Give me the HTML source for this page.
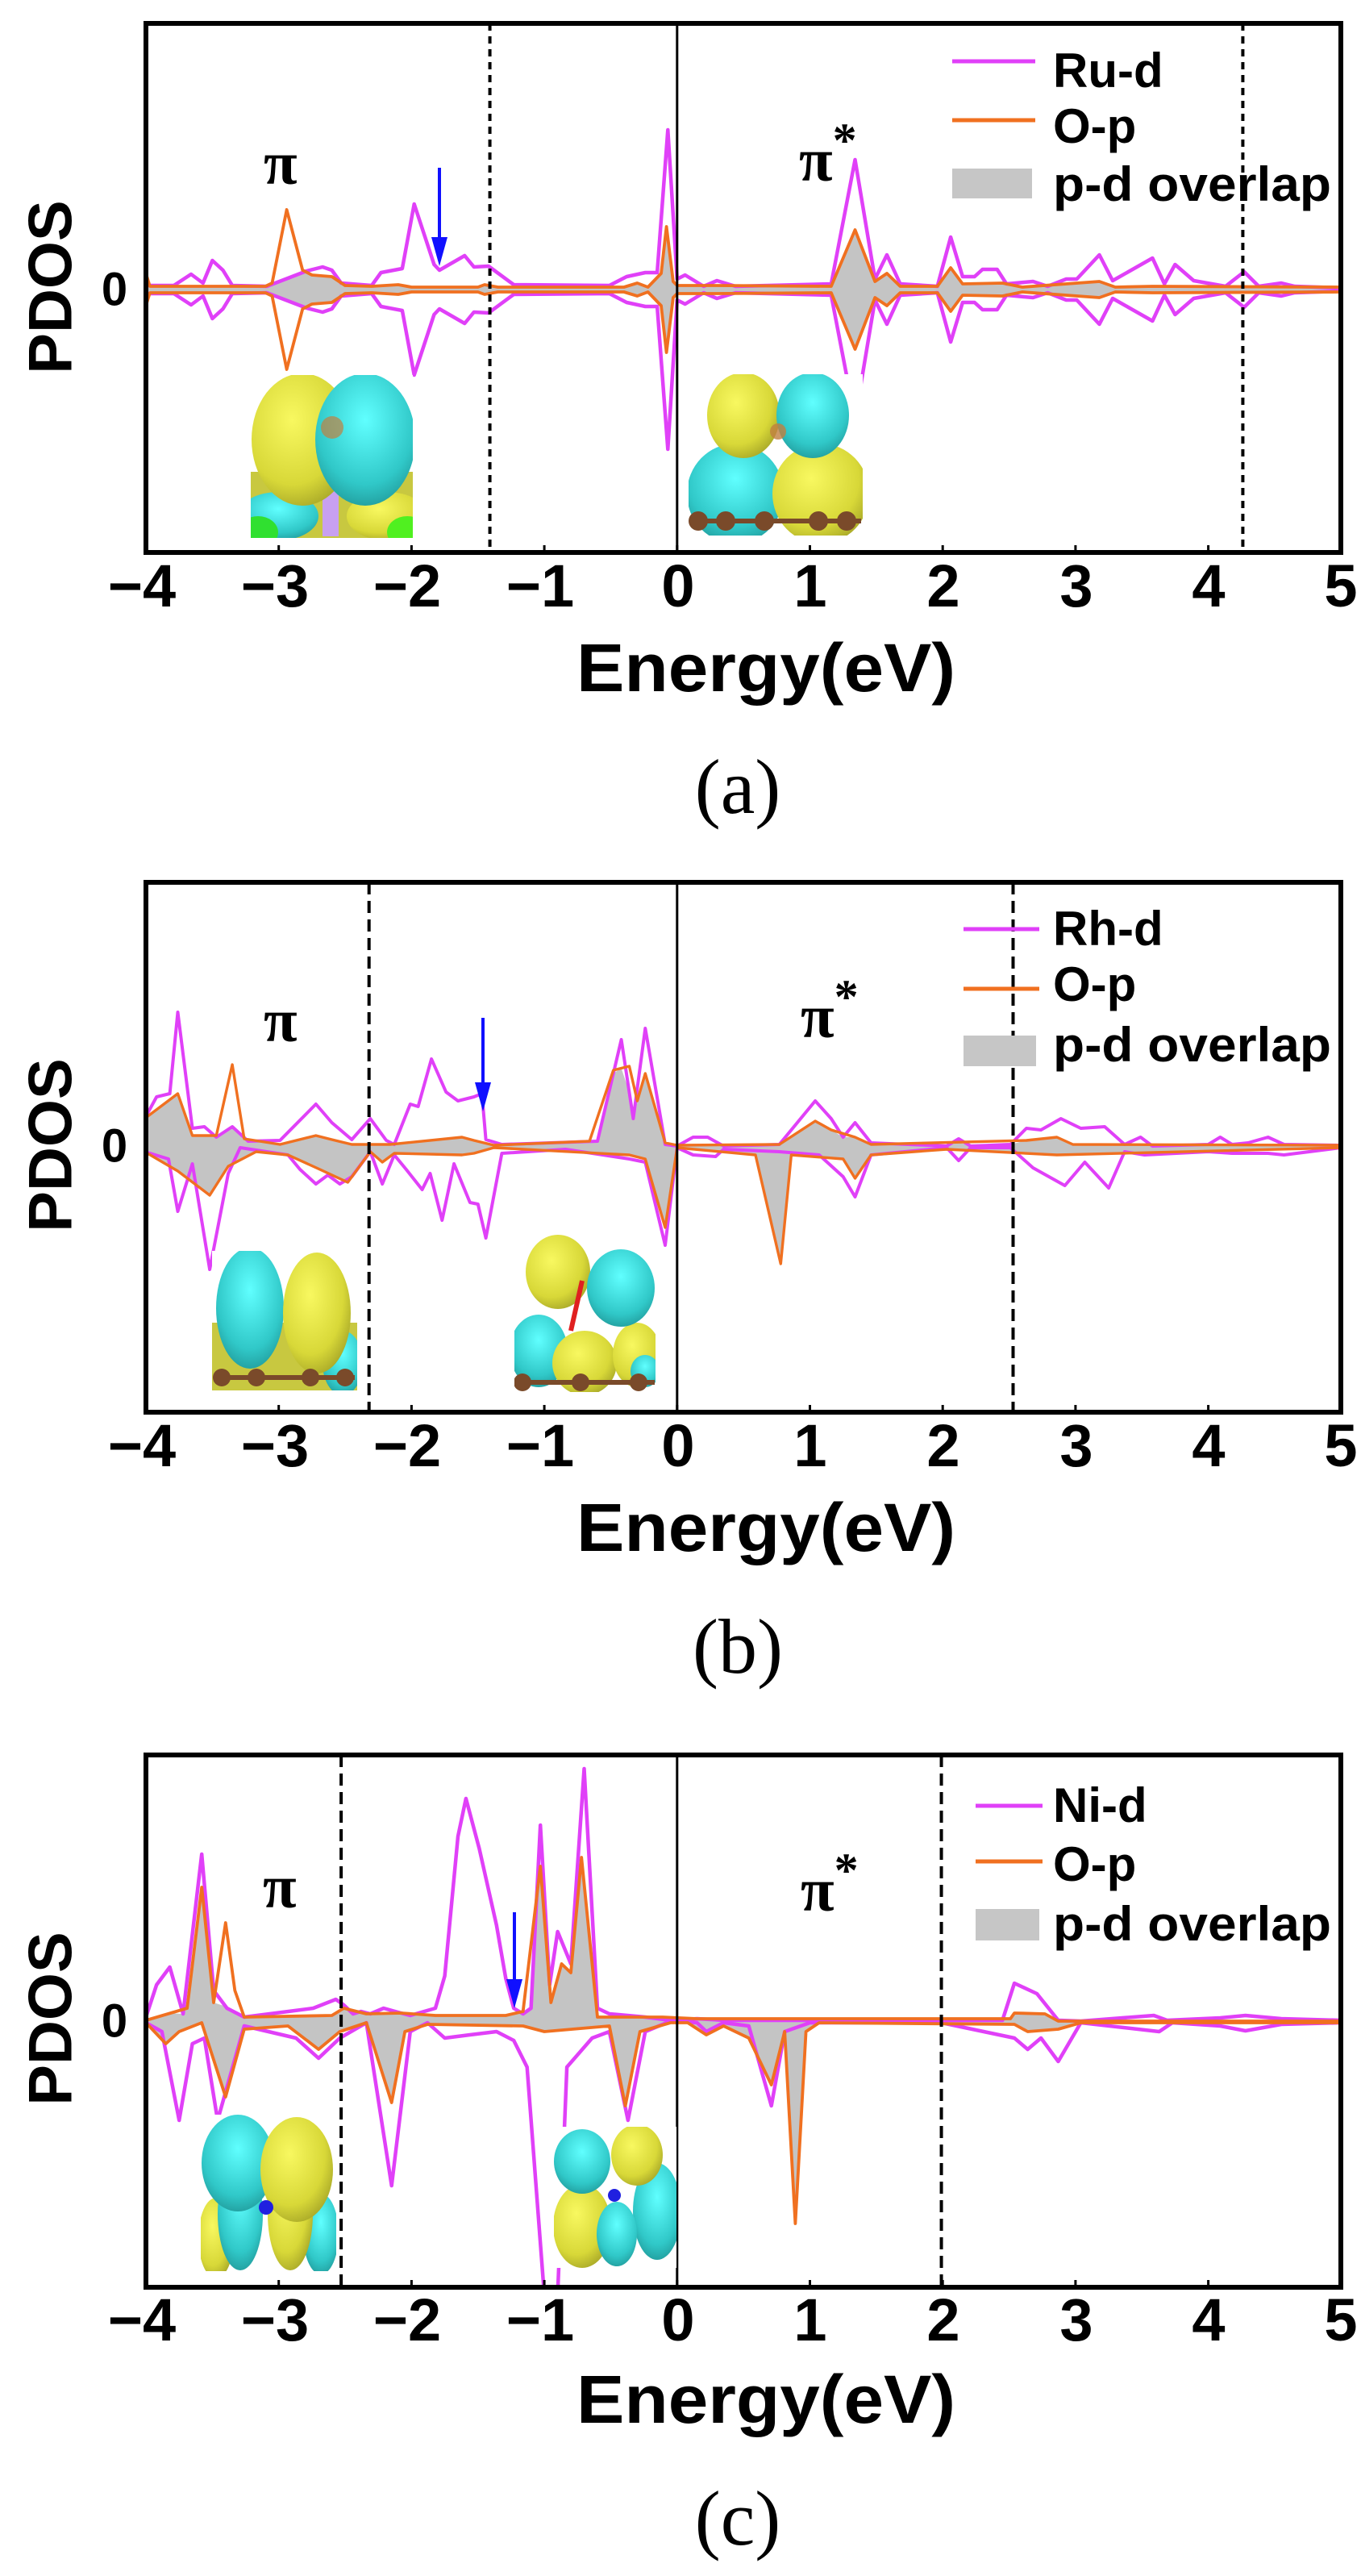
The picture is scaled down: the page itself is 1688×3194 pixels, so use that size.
<!DOCTYPE html>
<html><head><meta charset="utf-8">
<style>
html,body{margin:0;padding:0;background:#fff;}
svg{display:block;}
text{font-family:"Liberation Sans",Arial,sans-serif;font-weight:bold;fill:#000;}
.serif{font-family:"Liberation Serif","Times New Roman",serif;}
</style></head>
<body>
<svg id="root" width="1688" height="3194" viewBox="0 0 1688 3194" xmlns="http://www.w3.org/2000/svg">
<defs>
<radialGradient id="gy" cx="40%" cy="35%" r="70%"><stop offset="0" stop-color="#f8f860"/><stop offset="0.7" stop-color="#d8d838"/><stop offset="1" stop-color="#a8a828"/></radialGradient>
<radialGradient id="gc" cx="50%" cy="35%" r="70%"><stop offset="0" stop-color="#60ffff"/><stop offset="0.7" stop-color="#30c8c8"/><stop offset="1" stop-color="#209898"/></radialGradient>
<clipPath id="cpa"><rect x="181" y="29" width="1482" height="656"/></clipPath>
<clipPath id="cpb"><rect x="181" y="1094" width="1482" height="657"/></clipPath>
<clipPath id="cpc"><rect x="181" y="2176" width="1482" height="660"/></clipPath>
<clipPath id="i1"><rect x="311" y="465" width="201" height="202"/></clipPath>
<clipPath id="i2"><rect x="854" y="464" width="216" height="200"/></clipPath>
<clipPath id="i3"><rect x="263" y="1551" width="180" height="173"/></clipPath>
<clipPath id="i4"><rect x="638" y="1531" width="175" height="195"/></clipPath>
<clipPath id="i5"><rect x="249" y="2622" width="168" height="194"/></clipPath>
<clipPath id="i6"><rect x="687" y="2637" width="152" height="175"/></clipPath>
</defs>

<g id="pa"></g>
<g clip-path="url(#i1)">
 <rect x="311" y="465" width="201" height="202" fill="#fff"/>
 <rect x="311" y="585" width="201" height="82" fill="#c8c840"/>
 <ellipse cx="345" cy="640" rx="50" ry="30" fill="url(#gc)"/>
 <ellipse cx="480" cy="640" rx="50" ry="30" fill="url(#gy)"/>
 <ellipse cx="320" cy="660" rx="25" ry="20" fill="#30e030"/>
 <ellipse cx="505" cy="660" rx="25" ry="20" fill="#50f020"/>
 <rect x="400" y="560" width="20" height="105" fill="#c8a0f0"/>
 <ellipse cx="375" cy="545" rx="63" ry="82" fill="url(#gy)"/>
 <ellipse cx="453" cy="545" rx="62" ry="82" fill="url(#gc)"/>
 <circle cx="412" cy="530" r="14" fill="#c08040" opacity="0.7"/>
</g>
<g clip-path="url(#i2)">
 <rect x="854" y="464" width="216" height="200" fill="#fff"/>
 <ellipse cx="912" cy="612" rx="60" ry="62" fill="url(#gc)"/>
 <ellipse cx="1018" cy="612" rx="60" ry="62" fill="url(#gy)"/>
 <ellipse cx="922" cy="515" rx="45" ry="53" fill="url(#gy)"/>
 <ellipse cx="1008" cy="515" rx="45" ry="53" fill="url(#gc)"/>
 <circle cx="965" cy="535" r="10" fill="#c08040" opacity="0.8"/>
 <line x1="856" y1="646" x2="1068" y2="646" stroke="#7a4a2a" stroke-width="6"/>
 <circle cx="866" cy="646" r="12" fill="#7a4a2a"/><circle cx="900" cy="646" r="12" fill="#7a4a2a"/>
 <circle cx="948" cy="646" r="12" fill="#7a4a2a"/><circle cx="1015" cy="646" r="12" fill="#7a4a2a"/>
 <circle cx="1050" cy="646" r="12" fill="#7a4a2a"/>
</g>

<g id="pb"></g>
<g clip-path="url(#i3)">
 <rect x="263" y="1551" width="180" height="173" fill="#fff"/>
 <rect x="263" y="1640" width="180" height="84" fill="#c8c840"/>
 <ellipse cx="425" cy="1690" rx="25" ry="40" fill="url(#gc)"/>
 <ellipse cx="310" cy="1622" rx="42" ry="75" fill="url(#gc)"/>
 <ellipse cx="393" cy="1628" rx="42" ry="75" fill="url(#gy)"/>
 <line x1="268" y1="1708" x2="440" y2="1708" stroke="#7a4a2a" stroke-width="6"/>
 <circle cx="275" cy="1708" r="11" fill="#7a4a2a"/><circle cx="318" cy="1708" r="11" fill="#7a4a2a"/>
 <circle cx="385" cy="1708" r="11" fill="#7a4a2a"/><circle cx="428" cy="1708" r="11" fill="#7a4a2a"/>
</g>
<g clip-path="url(#i4)">
 <rect x="638" y="1531" width="175" height="195" fill="#fff"/>
 <ellipse cx="668" cy="1675" rx="36" ry="45" fill="url(#gc)"/>
 <ellipse cx="725" cy="1690" rx="40" ry="40" fill="url(#gy)"/>
 <ellipse cx="790" cy="1680" rx="30" ry="40" fill="url(#gy)"/>
 <ellipse cx="800" cy="1700" rx="18" ry="20" fill="url(#gc)"/>
 <ellipse cx="692" cy="1577" rx="40" ry="46" fill="url(#gy)"/>
 <ellipse cx="770" cy="1597" rx="42" ry="48" fill="url(#gc)"/>
 <line x1="722" y1="1588" x2="708" y2="1650" stroke="#e02020" stroke-width="6"/>
 <line x1="640" y1="1714" x2="812" y2="1714" stroke="#7a4a2a" stroke-width="6"/>
 <circle cx="648" cy="1714" r="11" fill="#7a4a2a"/><circle cx="720" cy="1714" r="11" fill="#7a4a2a"/>
 <circle cx="792" cy="1714" r="11" fill="#7a4a2a"/>
</g>

<g id="pc"></g>
<g clip-path="url(#i5)">
 <rect x="249" y="2622" width="168" height="194" fill="#fff"/>
 <ellipse cx="268" cy="2775" rx="22" ry="50" fill="url(#gy)"/>
 <ellipse cx="398" cy="2770" rx="22" ry="50" fill="url(#gc)"/>
 <ellipse cx="298" cy="2745" rx="28" ry="70" fill="url(#gc)"/>
 <ellipse cx="360" cy="2745" rx="28" ry="70" fill="url(#gy)"/>
 <ellipse cx="295" cy="2682" rx="45" ry="60" fill="url(#gc)"/>
 <ellipse cx="368" cy="2690" rx="45" ry="65" fill="url(#gy)"/>
 <circle cx="330" cy="2737" r="9" fill="#2020e0"/>
</g>
<g clip-path="url(#i6)">
 <rect x="687" y="2637" width="152" height="175" fill="#fff"/>
 <ellipse cx="815" cy="2742" rx="30" ry="60" fill="url(#gc)"/>
 <ellipse cx="722" cy="2760" rx="36" ry="52" fill="url(#gy)"/>
 <ellipse cx="765" cy="2770" rx="25" ry="40" fill="url(#gc)"/>
 <ellipse cx="722" cy="2680" rx="35" ry="40" fill="url(#gc)"/>
 <ellipse cx="790" cy="2672" rx="32" ry="38" fill="url(#gy)"/>
 <circle cx="762" cy="2722" r="8" fill="#2020e0"/>
</g>

<text x="63" y="356" font-size="76" text-anchor="middle" dominant-baseline="central" transform="rotate(-90 63 356)">PDOS</text>
<text x="142" y="359" font-size="58" text-anchor="middle" dominant-baseline="central">0</text>
<text class="serif" x="327" y="228" font-size="76">π</text>
<text class="serif" x="991" y="224" font-size="76">π<tspan font-size="60" dy="-30">*</tspan></text>
<text x="1306" y="108" font-size="60">Ru-d</text>
<text x="1306" y="177" font-size="60">O-p</text>
<text x="1306" y="249" font-size="60" textLength="345" lengthAdjust="spacingAndGlyphs">p-d overlap</text>
<text x="950" y="857" font-size="84" text-anchor="middle" textLength="470" lengthAdjust="spacingAndGlyphs">Energy(eV)</text>
<text class="serif" x="915" y="1008" font-size="96" text-anchor="middle" style="font-weight:normal">(a)</text>

<text x="63" y="1420" font-size="76" text-anchor="middle" dominant-baseline="central" transform="rotate(-90 63 1420)">PDOS</text>
<text x="142" y="1421" font-size="58" text-anchor="middle" dominant-baseline="central">0</text>
<text class="serif" x="327" y="1291" font-size="76">π</text>
<text class="serif" x="993" y="1286" font-size="76">π<tspan font-size="60" dy="-30">*</tspan></text>
<text x="1306" y="1172" font-size="60">Rh-d</text>
<text x="1306" y="1241" font-size="60">O-p</text>
<text x="1306" y="1316" font-size="60" textLength="345" lengthAdjust="spacingAndGlyphs">p-d overlap</text>
<text x="950" y="1923" font-size="84" text-anchor="middle" textLength="470" lengthAdjust="spacingAndGlyphs">Energy(eV)</text>
<text class="serif" x="915" y="2074" font-size="96" text-anchor="middle" style="font-weight:normal">(b)</text>

<text x="63" y="2503" font-size="76" text-anchor="middle" dominant-baseline="central" transform="rotate(-90 63 2503)">PDOS</text>
<text x="142" y="2506" font-size="58" text-anchor="middle" dominant-baseline="central">0</text>
<text class="serif" x="326" y="2365" font-size="76">π</text>
<text class="serif" x="993" y="2369" font-size="76">π<tspan font-size="60" dy="-30">*</tspan></text>
<text x="1306" y="2259" font-size="60">Ni-d</text>
<text x="1306" y="2332" font-size="60">O-p</text>
<text x="1306" y="2406" font-size="60" textLength="345" lengthAdjust="spacingAndGlyphs">p-d overlap</text>
<text x="950" y="3004" font-size="84" text-anchor="middle" textLength="470" lengthAdjust="spacingAndGlyphs">Energy(eV)</text>
<text class="serif" x="915" y="3155" font-size="96" text-anchor="middle" style="font-weight:normal">(c)</text>

<g font-size="74" text-anchor="middle">
<text x="176" y="752">−4</text><text x="341" y="752">−3</text><text x="505" y="752">−2</text><text x="670" y="752">−1</text>
<text x="841" y="752">0</text><text x="1005" y="752">1</text><text x="1170" y="752">2</text><text x="1335" y="752">3</text><text x="1499" y="752">4</text><text x="1663" y="752">5</text>
<text x="176" y="1818">−4</text><text x="341" y="1818">−3</text><text x="505" y="1818">−2</text><text x="670" y="1818">−1</text>
<text x="841" y="1818">0</text><text x="1005" y="1818">1</text><text x="1170" y="1818">2</text><text x="1335" y="1818">3</text><text x="1499" y="1818">4</text><text x="1663" y="1818">5</text>
<text x="176" y="2902">−4</text><text x="341" y="2902">−3</text><text x="505" y="2902">−2</text><text x="670" y="2902">−1</text>
<text x="841" y="2902">0</text><text x="1005" y="2902">1</text><text x="1170" y="2902">2</text><text x="1335" y="2902">3</text><text x="1499" y="2902">4</text><text x="1663" y="2902">5</text>
</g>
</svg>

<script>
(function(){
var NS="http://www.w3.org/2000/svg";
function X(E){return 181+(E+4)*164.7;}
function el(parent,tag,attrs){var e=document.createElementNS(NS,tag);for(var k in attrs)e.setAttribute(k,attrs[k]);parent.appendChild(e);return e;}
function interp(arr,E){
  if(E<=arr[0][0])return arr[0][1];
  for(var i=1;i<arr.length;i++){if(E<=arr[i][0]){var a=arr[i-1],b=arr[i];var t=(E-a[0])/(b[0]-a[0]||1);return a[1]+t*(b[1]-a[1]);}}
  return arr[arr.length-1][1];
}
function neg(arr){return arr.map(function(p){return [p[0],-p[1]];});}
function pts(arr,z){return arr.map(function(p){return X(p[0]).toFixed(1)+","+(z-p[1]).toFixed(1);}).join(" ");}
function grayPoly(o,m,useMin,up){
  var Es={};o.forEach(function(p){Es[p[0]]=1;});m.forEach(function(p){Es[p[0]]=1;});
  var list=Object.keys(Es).map(Number).sort(function(a,b){return a-b;});
  return list.map(function(E){var ov=interp(o,E),mv=interp(m,E);var v;
    if(useMin){v=up?Math.min(ov,mv):Math.max(ov,mv);}else v=ov;
    if(up)v=Math.max(v,0);else v=Math.min(v,0);return [E,v];});
}
function panel(id,clip,top,bot,zero,magU,magL,orU,orL,lowMin,lw,dashes,dashStyle,arrow,leg){
  var g=document.getElementById(id);
  var cg=el(g,"g",{"clip-path":"url(#"+clip+")"});
  var gu=grayPoly(orU,magU,true,true), gl=grayPoly(orL,magL,lowMin,false);
  var poly=gu.concat(gl.slice().reverse());
  el(cg,"polygon",{points:pts(poly,zero),fill:"#c4c4c4",stroke:"none"});
  el(cg,"polyline",{points:pts(magU,zero),fill:"none",stroke:"#e040f8","stroke-width":lw,"stroke-linejoin":"round"});
  el(cg,"polyline",{points:pts(magL,zero),fill:"none",stroke:"#e040f8","stroke-width":lw,"stroke-linejoin":"round"});
  el(cg,"polyline",{points:pts(orU,zero),fill:"none",stroke:"#f07020","stroke-width":lw*0.85,"stroke-linejoin":"round"});
  el(cg,"polyline",{points:pts(orL,zero),fill:"none",stroke:"#f07020","stroke-width":lw*0.85,"stroke-linejoin":"round"});
  dashes.forEach(function(E){el(g,"line",{x1:X(E),x2:X(E),y1:top,y2:bot,stroke:"#000","stroke-width":4,"stroke-dasharray":dashStyle});});
  el(g,"line",{x1:X(0),x2:X(0),y1:top,y2:bot,stroke:"#000","stroke-width":3});
  for(var i=-4;i<=5;i++){el(g,"line",{x1:X(i),x2:X(i),y1:bot-9,y2:bot,stroke:"#000","stroke-width":3});}
  el(g,"rect",{x:181,y:top,width:1482,height:bot-top,fill:"none",stroke:"#000","stroke-width":6});
  el(g,"line",{x1:arrow[0],x2:arrow[0],y1:arrow[1],y2:arrow[2]-20,stroke:"#1010ff","stroke-width":4});
  el(g,"polygon",{points:(arrow[0]-10)+","+(arrow[2]-36)+" "+(arrow[0]+10)+","+(arrow[2]-36)+" "+arrow[0]+","+arrow[2],fill:"#1010ff"});
  el(g,"line",{x1:leg[0],x2:leg[1],y1:leg[2],y2:leg[2],stroke:"#e040f8","stroke-width":5});
  el(g,"line",{x1:leg[0],x2:leg[1],y1:leg[3],y2:leg[3],stroke:"#f07020","stroke-width":5});
  el(g,"rect",{x:leg[0],y:leg[4],width:leg[1]-leg[0]-4,height:leg[5]-leg[4],fill:"#c6c6c6"});
}

var aM=[[-4,5],[-3.79,5],[-3.66,19],[-3.57,8],[-3.5,36],[-3.42,24],[-3.35,5],[-3.09,4],[-2.79,23],[-2.67,28],[-2.6,24],[-2.53,8],[-2.3,5],[-2.23,21],[-2.07,26],[-1.98,106],[-1.83,31],[-1.79,24],[-1.6,42],[-1.53,28],[-1.42,29],[-1.23,6],[-0.51,5],[-0.38,16],[-0.24,21],[-0.15,21],[-0.07,198],[0.0,13],[0.06,18],[0.2,4],[0.3,11],[0.44,4],[1.16,7],[1.34,161],[1.49,13],[1.58,43],[1.68,7],[1.96,4],[2.06,65],[2.15,16],[2.24,16],[2.3,25],[2.41,25],[2.48,7],[2.68,10],[2.79,4],[2.93,13],[3.01,13],[3.18,43],[3.28,11],[3.58,39],[3.67,7],[3.75,31],[3.89,11],[4.13,4],[4.27,22],[4.38,4],[4.55,8],[4.65,4],[5,2]];
var aO=[[-4,20],[-3.97,4],[-3.1,4],[-3.05,8],[-2.94,99],[-2.82,24],[-2.75,18],[-2.6,16],[-2.5,5],[-2.3,4],[-2.1,6],[-2.0,3],[-1.5,3],[-1.45,6],[-1.35,3],[-0.4,3],[-0.3,8],[-0.22,3],[-0.12,20],[-0.08,78],[-0.03,10],[0,5],[0.3,5],[1.16,4],[1.34,74],[1.49,10],[1.58,20],[1.68,4],[1.96,4],[2.06,27],[2.15,7],[2.45,8],[2.6,3],[3.18,10],[3.3,3],[3.58,4],[5,3]];
panel("pa","cpa",29,685,359,aM,neg(aM),aO,neg(aO),true,4.5,[-1.41,4.26],"9 7",[545,208,330],[1181,1284,76,149,209,246]);

var bMu=[[-4.01,34],[-3.92,61],[-3.82,65],[-3.76,166],[-3.65,22],[-3.56,24],[-3.47,11],[-3.35,24],[-3.23,6],[-2.99,7],[-2.72,52],[-2.6,29],[-2.45,8],[-2.31,34],[-2.19,7],[-2.13,2],[-2.01,52],[-1.95,49],[-1.85,108],[-1.74,67],[-1.65,56],[-1.53,61],[-1.47,65],[-1.44,8],[-1.32,2],[-0.6,6],[-0.42,132],[-0.33,34],[-0.24,146],[-0.09,2],[0,0],[0.12,11],[0.23,11],[0.35,0],[0.77,2],[1.04,56],[1.16,34],[1.25,11],[1.34,29],[1.46,4],[2.03,0],[2.12,9],[2.21,0],[2.51,2],[2.63,22],[2.74,20],[2.89,34],[3.04,22],[3.22,24],[3.37,2],[3.49,11],[3.58,0],[4.0,2],[4.09,11],[4.18,2],[4.3,4],[4.45,11],[4.57,2],[5,1]];
var bMl=[[-4.01,-7],[-3.83,-16],[-3.76,-81],[-3.65,-22],[-3.52,-153],[-3.38,-34],[-3.29,-2],[-2.93,-11],[-2.84,-29],[-2.72,-47],[-2.63,-36],[-2.54,-47],[-2.45,-38],[-2.31,-7],[-2.22,-47],[-2.13,-11],[-2.04,-29],[-1.92,-54],[-1.86,-34],[-1.77,-92],[-1.68,-22],[-1.56,-70],[-1.5,-72],[-1.44,-114],[-1.32,-9],[-0.84,-4],[-0.36,-16],[-0.24,-20],[-0.09,-123],[0,-2],[0.12,-11],[0.29,-13],[0.35,-4],[0.77,-7],[1.07,-11],[1.25,-38],[1.34,-63],[1.46,-11],[2.03,-2],[2.12,-18],[2.21,-2],[2.51,-2],[2.68,-27],[2.92,-49],[3.07,-20],[3.25,-52],[3.37,-7],[3.52,-11],[4.0,-7],[4.18,-9],[4.45,-9],[4.57,-11],[5,-2]];
var bOu=[[-4.01,34],[-3.76,65],[-3.65,13],[-3.47,13],[-3.35,101],[-3.26,9],[-2.99,2],[-2.72,13],[-2.6,8],[-2.45,2],[-2.16,2],[-1.62,11],[-1.53,7],[-1.38,1],[-0.66,6],[-0.48,94],[-0.36,99],[-0.3,56],[-0.24,90],[-0.09,4],[0,1],[0.77,2],[1.04,31],[1.16,20],[1.34,11],[1.46,2],[2.63,7],[2.86,11],[2.98,2],[5,1]];
var bOl=[[-4.01,-7],[-3.76,-31],[-3.52,-61],[-3.38,-25],[-3.17,-7],[-2.93,-11],[-2.69,-29],[-2.48,-45],[-2.31,-7],[-2.22,-20],[-2.13,-9],[-1.62,-11],[-1.53,-9],[-1.38,-2],[-0.36,-11],[-0.24,-16],[-0.09,-101],[0,-2],[0.59,-11],[0.78,-146],[0.86,-11],[1.25,-16],[1.34,-40],[1.46,-11],[2.03,-4],[2.86,-11],[5,-2]];
panel("pb","cpb",1094,1751,1421,bMu,bMl,bOu,bOl,false,4,[-2.32,2.53],"15 8",[599,1262,1378],[1195,1289,1152,1226,1284,1322]);

var cMu=[[-4,5],[-3.92,45],[-3.82,67],[-3.72,9],[-3.58,207],[-3.49,38],[-3.39,16],[-3.26,5],[-2.74,16],[-2.57,27],[-2.51,20],[-2.44,9],[-2.38,12],[-2.31,9],[-2.21,16],[-2.08,10],[-2.01,7],[-1.82,16],[-1.75,56],[-1.65,229],[-1.59,276],[-1.49,214],[-1.36,119],[-1.29,53],[-1.23,16],[-1.16,9],[-1.1,16],[-1.03,243],[-0.96,45],[-0.9,111],[-0.8,71],[-0.7,313],[-0.6,16],[-0.51,9],[-0.24,5],[-0.05,1],[0.15,3],[0.35,1],[2.45,1],[2.54,47],[2.71,34],[2.87,1],[3.04,0],[3.59,7],[3.69,1],[4.09,4],[4.28,7],[4.55,3],[5,1]];
var cMl=[[-4,-2],[-3.88,-13],[-3.75,-123],[-3.65,-28],[-3.56,-21],[-3.46,-123],[-3.26,-6],[-2.87,-21],[-2.7,-46],[-2.54,-21],[-2.34,-2],[-2.15,-204],[-2.01,-13],[-1.88,-2],[-1.75,-21],[-1.56,-17],[-1.36,-13],[-1.23,-24],[-1.13,-57],[-1.0,-340],[-0.9,-340],[-0.83,-57],[-0.64,-21],[-0.51,-13],[-0.37,-123],[-0.24,-13],[-0.05,0],[0.15,-2],[0.22,-13],[0.35,-2],[0.54,-6],[0.71,-105],[0.81,-13],[1.0,-2],[1.99,-2],[2.54,-21],[2.64,-35],[2.74,-21],[2.87,-50],[3.04,-2],[3.63,-13],[3.73,-2],[4.09,-6],[4.28,-12],[4.55,-4],[5,-2]];
var cOu=[[-4,1],[-3.69,16],[-3.58,166],[-3.49,23],[-3.4,122],[-3.33,38],[-3.26,5],[-2.6,7],[-2.51,16],[-2.34,9],[-2.08,10],[-1.82,7],[-1.29,7],[-1.16,12],[-1.03,192],[-0.95,23],[-0.87,71],[-0.8,60],[-0.72,203],[-0.6,5],[-0.11,5],[0.15,3],[2.51,3],[2.54,10],[2.77,9],[2.87,0],[5,0]];
var cOl=[[-4,-2],[-3.85,-28],[-3.75,-13],[-3.58,-2],[-3.4,-94],[-3.26,-10],[-2.93,-6],[-2.7,-35],[-2.54,-13],[-2.34,-2],[-2.15,-101],[-2.05,-13],[-1.88,-4],[-1.16,-6],[-1.0,-13],[-0.51,-6],[-0.39,-105],[-0.28,-13],[-0.05,-2],[0.08,-2],[0.22,-17],[0.35,-6],[0.54,-21],[0.71,-79],[0.81,-13],[0.89,-251],[0.97,-13],[1.07,-2],[2.54,-4],[2.64,-13],[2.87,-10],[3.04,-2],[5,-2]];
panel("pc","cpc",2176,2836,2506,cMu,cMl,cOu,cOl,false,4.5,[-2.53,1.99],"15 8",[638,2371,2490],[1210,1293,2239,2308,2367,2406]);
})();
</script>
</body></html>
